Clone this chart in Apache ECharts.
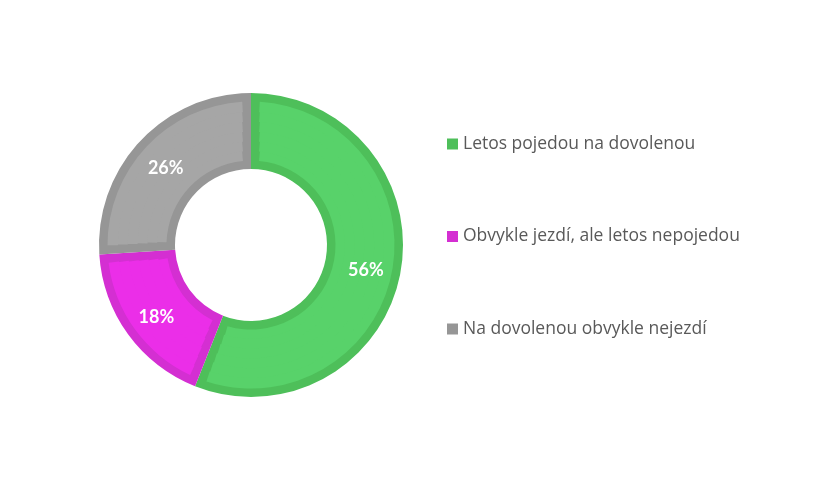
<!DOCTYPE html>
<html>
<head>
<meta charset="utf-8">
<script src="https://cdn.jsdelivr.net/npm/echarts@6/dist/echarts.min.js"></script>
<style>html,body{margin:0;padding:0;background:#fff}#c{width:840px;height:480px}</style>
</head>
<body>
<div id="c"></div>
<script>
const categories = ['Letos pojedou na dovolenou', 'Obvykle jezdí, ale letos nepojedou', 'Na dovolenou obvykle nejezdí'];
const values = [56, 18, 26];
const fillColors = ['#58D26A', '#EB2EE8', '#A6A6A6'];
const borderColors = ['#4EBF5A', '#D42FD2', '#969696'];

const chart = echarts.init(document.getElementById('c'));
const center = [251, 245];
const innerR = 76, outerR = 152, border = 8.5;

function pieData(colors) {
  return categories.map((n, i) => ({ name: n, value: values[i], itemStyle: { color: colors[i] } }));
}

// fill area split into thin rings so the pad between slices keeps a near-constant width
const fillRings = [];
const nRings = 6;
const r0 = innerR + border, r1 = outerR - border;
const step = (r1 - r0) / nRings;
for (let k = 0; k < nRings; k++) {
  const a = r0 + k * step, b = r0 + (k + 1) * step;
  const mid = (a + b) / 2;
  fillRings.push({
    type: 'pie',
    center: center,
    radius: [k === 0 ? a : a - 0.6, k === nRings - 1 ? b : b + 0.6],
    startAngle: 90,
    clockwise: true,
    silent: true,
    padAngle: (2 * border / mid) * 180 / Math.PI,
    label: { show: false },
    labelLine: { show: false },
    data: pieData(fillColors)
  });
}

chart.setOption({
  animation: false,
  legend: {
    orient: 'vertical',
    left: 447,
    top: 135,
    padding: 0,
    itemWidth: 11,
    itemHeight: 11,
    itemGap: 74.5,
    icon: 'rect',
    textStyle: { fontFamily: 'Open Sans', fontSize: 17.5, color: '#595959', padding: [0, 0, 0, 0] },
    data: categories.map((n, i) => ({ name: n, itemStyle: { color: borderColors[i] } }))
  },
  series: [
    {
      type: 'pie',
      center: center,
      radius: [innerR, outerR],
      startAngle: 90,
      clockwise: true,
      silent: true,
      label: { show: false },
      labelLine: { show: false },
      data: pieData(borderColors)
    }
  ].concat(fillRings).concat([
    {
      type: 'pie',
      center: center,
      radius: [innerR, outerR],
      startAngle: 90,
      clockwise: true,
      silent: true,
      itemStyle: { color: 'rgba(0,0,0,0)' },
      label: {
        show: true,
        position: 'inside',
        formatter: p => p.value + '%',
        color: '#fff',
        fontFamily: 'Lato',
        fontWeight: 'bold',
        fontSize: 18,
        offset: [0, 3]
      },
      labelLine: { show: false },
      data: categories.map((n, i) => ({ name: n, value: values[i] }))
    }
  ])
});
</script>
</body>
</html>
